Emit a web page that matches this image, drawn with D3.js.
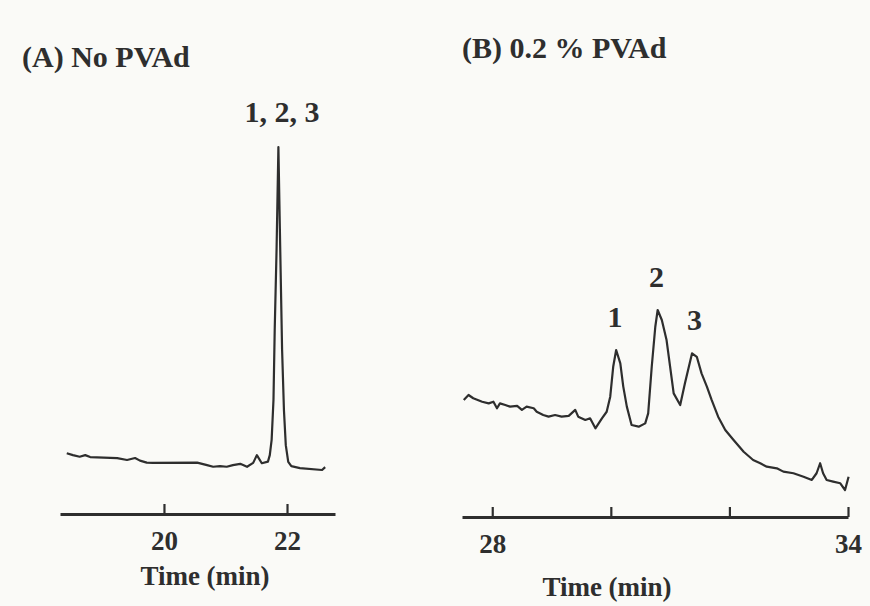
<!DOCTYPE html>
<html>
<head>
<meta charset="utf-8">
<script src="https://cdn.jsdelivr.net/npm/d3@7"></script>
<style>
  html, body { margin: 0; padding: 0; background: #fafaf7; }
  svg { display: block; }
  text { font-family: "Liberation Serif", "Times New Roman", serif; font-weight: bold; fill: #2e2e2e; }
</style>
</head>
<body>
<svg id="chart" width="870" height="606"></svg>
<script>
// ---------- Data ----------
// Panel A: No PVAd  (time in min, detector signal in arbitrary units)
const timeA = [18.42, 18.52, 18.63, 18.72, 18.80, 19.24, 19.40, 19.53, 19.61, 19.72, 19.82, 20.54, 20.70, 20.80, 20.91, 21.02, 21.12, 21.24, 21.35, 21.45, 21.51, 21.59, 21.69, 21.72, 21.75, 21.765, 21.78, 21.80, 21.83, 21.86, 21.89, 21.92, 21.95, 21.98, 22.02, 22.07, 22.21, 22.57, 22.62];
const signalA = [5.2, 4.6, 4.1, 4.6, 4.0, 3.7, 3.1, 3.7, 2.9, 2.3, 2.2, 2.3, 1.5, 1.0, 1.2, 1.0, 1.5, 1.9, 1.0, 2.2, 4.6, 2.1, 2.6, 4.6, 9.3, 15.5, 21.7, 43.3, 68.1, 100, 68.1, 37.2, 18.6, 7.7, 2.5, 1.2, 0.6, 0, 0.9];

// Panel B: 0.2 % PVAd
const timeB = [27.52, 27.60, 27.68, 27.83, 27.94, 28.02, 28.08, 28.13, 28.22, 28.30, 28.42, 28.50, 28.58, 28.70, 28.75, 28.86, 28.95, 29.06, 29.17, 29.29, 29.40, 29.45, 29.57, 29.65, 29.74, 29.85, 29.93, 29.99, 30.04, 30.09, 30.16, 30.21, 30.27, 30.35, 30.47, 30.58, 30.63, 30.69, 30.75, 30.79, 30.86, 30.94, 31.06, 31.17, 31.25, 31.37, 31.45, 31.53, 31.62, 31.70, 31.81, 31.93, 32.07, 32.24, 32.40, 32.52, 32.63, 32.80, 32.91, 33.08, 33.25, 33.39, 33.47, 33.53, 33.58, 33.64, 33.75, 33.87, 33.95, 34.01];
const signalB = [49.5, 52.2, 50.4, 48.5, 47.6, 48.5, 44.9, 47.6, 46.7, 45.8, 46.2, 44.0, 45.8, 44.9, 43.0, 41.2, 40.3, 41.2, 40.3, 40.7, 44.0, 40.3, 38.5, 39.4, 33.9, 39.4, 43.0, 51.3, 67.7, 76.9, 69.6, 56.8, 45.8, 35.7, 34.8, 36.6, 42.1, 67.7, 89.7, 98.9, 93.4, 82.4, 53.1, 46.7, 58.6, 75.1, 73.2, 64.1, 56.8, 49.5, 40.3, 33.0, 27.5, 21.0, 16.5, 14.7, 12.8, 11.9, 10.1, 9.2, 7.3, 5.5, 9.2, 14.7, 9.2, 5.5, 4.6, 3.7, 0, 7.3];

// Axes
const ticksA = [20, 22];
const tickLabelsA = ["20", "22"];
const ticksB = [28, 30, 32, 34];
const tickLabelsB = ["28", "", "", "34"];

// Peak labels
const peakLabelsA = [{ text: "1, 2, 3", t: 21.92, v: 100 }];
const peakLabelsB = [
  { text: "1", t: 30.07, v: 76.9 },
  { text: "2", t: 30.77, v: 98.9 },
  { text: "3", t: 31.41, v: 75.1 }
];

const titleA = "(A) No PVAd";
const titleB = "(B) 0.2 % PVAd";
const axisTitle = "Time (min)";

// ---------- Drawing ----------
const svg = d3.select("#chart");
const ink = "#2e2e2e";

function panel(cfg) {
  const x = d3.scaleLinear().domain(cfg.xDomain).range(cfg.xRange);
  const y = d3.scaleLinear().domain([0, 100]).range(cfg.yRange);
  const g = svg.append("g");

  // axis
  const axis = d3.axisBottom(x)
    .tickValues(cfg.ticks)
    .tickFormat((d, i) => cfg.tickLabels[i])
    .tickSizeInner(-10)
    .tickSizeOuter(0)
    .tickPadding(cfg.tickPad);
  const ag = g.append("g")
    .attr("transform", `translate(0,${cfg.axisY})`)
    .call(axis);
  ag.select(".domain").attr("stroke", ink).attr("stroke-width", 3);
  ag.selectAll(".tick line").attr("stroke", ink).attr("stroke-width", 2.2);
  ag.selectAll(".tick text")
    .attr("font-size", 27)
    .attr("fill", ink)
    .style("font-family", '"Liberation Serif", serif')
    .style("font-weight", "bold");

  // trace
  const line = d3.line()
    .x((d, i) => x(cfg.time[i]))
    .y(d => y(d))
    .curve(d3.curveLinear);
  g.append("path")
    .datum(cfg.signal)
    .attr("d", line)
    .attr("fill", "none")
    .attr("stroke", ink)
    .attr("stroke-width", 2.2)
    .attr("stroke-linejoin", "round");

  // peak labels
  g.selectAll(".pk")
    .data(cfg.peaks)
    .enter().append("text")
    .attr("x", d => x(d.t) + (cfg.pkDx || 0))
    .attr("y", d => y(d.v) - cfg.pkGap)
    .attr("text-anchor", "middle")
    .attr("font-size", 30)
    .text(d => d.text);

  // axis title
  g.append("text")
    .attr("x", cfg.axisTitleX)
    .attr("y", cfg.axisTitleY)
    .attr("text-anchor", "middle")
    .attr("font-size", 27)
    .text(axisTitle);

  // panel title
  g.append("text")
    .attr("x", cfg.titleX)
    .attr("y", cfg.titleY)
    .attr("font-size", 30)
    .text(cfg.title);
}

panel({
  time: timeA, signal: signalA,
  xDomain: [18.31, 22.78], xRange: [60, 335],
  yRange: [470, 147],
  axisY: 514, ticks: ticksA, tickLabels: tickLabelsA, tickPad: 17,
  peaks: peakLabelsA, pkGap: 25, pkDx: 0,
  axisTitleX: 205, axisTitleY: 585,
  title: titleA, titleX: 22, titleY: 67
});

panel({
  time: timeB, signal: signalB,
  xDomain: [27.49, 34.0], xRange: [462, 848],
  yRange: [490, 308],
  axisY: 517, ticks: ticksB, tickLabels: tickLabelsB, tickPad: 17,
  peaks: peakLabelsB, pkGap: 23,
  axisTitleX: 607, axisTitleY: 596,
  title: titleB, titleX: 462, titleY: 58
});
</script>
</body>
</html>
